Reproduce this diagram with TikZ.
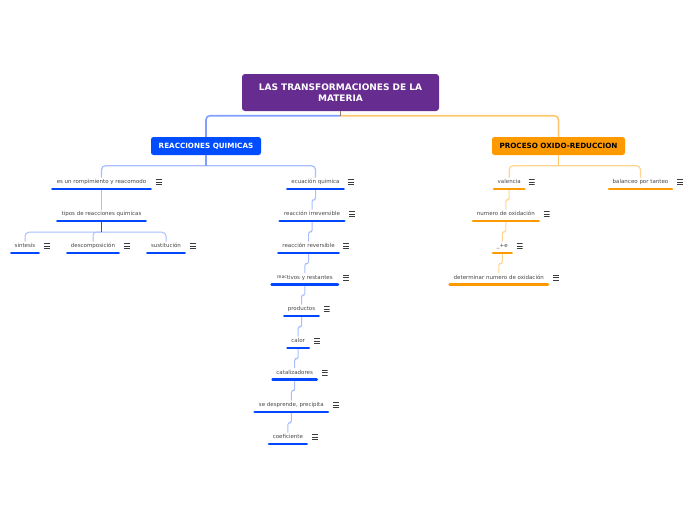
\documentclass[tikz,border=0pt]{standalone}
\usepackage{fontspec}
\setmainfont{DejaVu Sans}
\usetikzlibrary{calc}
\definecolor{rootc}{RGB}{102,44,144}
\definecolor{bluec}{RGB}{0,76,255}
\definecolor{orc}{RGB}{255,153,0}
\definecolor{bline}{RGB}{128,160,255}
\definecolor{oline}{RGB}{255,200,110}
\definecolor{blite}{RGB}{168,190,255}
\definecolor{olite}{RGB}{255,212,140}
\definecolor{stemc}{RGB}{150,120,110}
\definecolor{bdark}{RGB}{40,80,230}
\definecolor{txtc}{RGB}{70,70,70}
\definecolor{iconc}{RGB}{60,60,60}
\definecolor{ulb}{RGB}{0,71,255}
\definecolor{ulo}{RGB}{255,153,0}
\newcommand\leafit[6]{%
  \node[leaf] (#1) at (#2,#3) {#4};
  \draw[uline, #6] ({#2-#5+1.3},{#3+7}) -- ({#2+#5-1.3},{#3+7});
  \coordinate (#1u) at (#2,{#3+8.2});
}
\newcommand\menuit[3]{\node[menuicon] (#1) at (#2,#3) {};}
\newcommand\jogit[3]{\draw[#3, line width=1pt, rounded corners=1.5pt] (#1u) |- ($(#1u)!0.5!(#2.north)$) -| (#2.north);}
\begin{document}
\begin{tikzpicture}[x=1pt,y=-1pt,
  rootbox/.style={fill=rootc, rounded corners=3pt, text=white, font=\fontsize{9}{11}\selectfont\bfseries, align=center, minimum width=197pt, minimum height=37pt, inner sep=0},
  mainbox/.style={rounded corners=2.5pt, font=\fontsize{7.2}{8}\selectfont\bfseries, minimum height=18pt, inner sep=0},
  leaf/.style={font=\fontsize{5.5}{6}\selectfont, text=txtc, inner sep=0, outer sep=1.5pt, text height=4.5pt, text depth=1.5pt},
  uline/.style={line width=2.6pt, line cap=round},
  menuicon/.style={minimum width=6pt, minimum height=6pt, inner sep=0,
    path picture={\foreach \d in {-2.5,0,2.5}{\draw[iconc, line width=0.9pt] ([yshift=\d pt]path picture bounding box.west) -- ([yshift=\d pt]path picture bounding box.east);}}}
]
\useasboundingbox (0,0) rectangle (696,520);

% main boxes
\node[rootbox] (root) at (340.5,92.5) {LAS TRANSFORMACIONES DE LA\\MATERIA};
\node[mainbox, fill=bluec, text=white, minimum width=110pt] (rq) at (206,146) {REACCIONES QUIMICAS};
\node[mainbox, fill=orc, text=black, minimum width=133pt] (po) at (558.5,146) {PROCESO OXIDO-REDUCCION};

% leaves, left part
\leafit{es}{101.5}{182}{es un rompimiento y reacomodo}{50.5}{ulb}
\menuit{esi}{159}{182}
\leafit{tipos}{101.5}{214}{tipos de reacciones quimicas}{45.5}{ulb}
\leafit{sin}{25}{246}{sintesis}{15}{ulb}
\menuit{sini}{47}{246}
\leafit{desc}{93}{246}{descomposición}{27}{ulb}
\menuit{desci}{127}{246}
\leafit{sust}{166}{246}{sustitución}{20}{ulb}
\menuit{susti}{193}{246}

\leafit{ecu}{315.5}{182}{ecuación quimica}{29.5}{ulb}
\menuit{ecui}{351}{182}
\leafit{irr}{312}{214}{reacción irreversible}{33.7}{ulb}
\menuit{irri}{352}{214}
\leafit{rev}{308.5}{246}{reacción reversible}{31.5}{ulb}
\menuit{revi}{346}{246}
\leafit{reac}{304.8}{277.7}{{\fontsize{4.6}{5}\selectfont\raisebox{1pt}{reac}}tivos y restantes}{34.5}{ulb}
\menuit{reaci}{346}{277.7}
\leafit{prod}{301.5}{309}{productos}{18.5}{ulb}
\menuit{prodi}{326.7}{309}
\leafit{calor}{298.2}{341}{calor}{12}{ulb}
\menuit{calori}{317}{341}
\leafit{cata}{294.7}{372.7}{catalizadores}{23.4}{ulb}
\menuit{catai}{324.7}{372.7}
\leafit{desp}{291.3}{405}{se desprende, precipita}{38}{ulb}
\menuit{despi}{336}{405}
\leafit{coef}{287.9}{437}{coeficiente}{20.2}{ulb}
\menuit{coefi}{315}{437}

% leaves, right part
\leafit{val}{509.2}{182}{valencia}{16.5}{ulo}
\menuit{vali}{531.7}{182}
\leafit{bal}{640.5}{182}{balanceo por tanteo}{32.8}{ulo}
\menuit{bali}{680}{182}
\leafit{num}{505.9}{214}{numero de oxidación}{34.2}{ulo}
\menuit{numi}{546.7}{214}
\leafit{pe}{502.3}{246}{\_+e}{10.7}{ulo}
\menuit{pei}{519.7}{246}
\leafit{det}{498.8}{277.7}{determinar numero de oxidación}{50.5}{ulo}
\menuit{deti}{556}{277.7}

% connectors: root
\coordinate (rj) at ($(root.south)+(0,4.5)$);
\draw[bline, line width=1.6pt, rounded corners=4pt] (rj) -| (rq.north);
\draw[oline, line width=1.6pt, rounded corners=4pt] (rj) -| (po.north);
\draw[stemc, line width=1.6pt] (root.south) -- (rj);

% reacciones quimicas
\coordinate (rqj) at ($(rq.south)+(0,10.5)$);
\draw[blite, line width=1.2pt, rounded corners=4pt] (rqj) -| (es.north);
\draw[blite, line width=1.2pt, rounded corners=4pt] (rqj) -| (ecu.north);
\draw[bline, line width=1.3pt] (rq.south) -- (rqj);
\draw[blite, line width=1pt] (esu) -- (tipos.north);
\coordinate (tj) at ($(tiposu)+(0,10)$);
\draw[blite, line width=1pt, rounded corners=4pt] (tj) -| (sin.north);
\draw[blite, line width=1pt, rounded corners=4pt] (tj) -| (sust.north);
\draw[blite, line width=1pt, rounded corners=3pt] (tj) -| (desc.north);
\draw[bdark, line width=1.2pt] (tiposu) -- (tj);
\jogit{ecu}{irr}{blite}
\jogit{irr}{rev}{blite}
\jogit{rev}{reac}{blite}
\jogit{reac}{prod}{blite}
\jogit{prod}{calor}{blite}
\jogit{calor}{cata}{blite}
\jogit{cata}{desp}{blite}
\jogit{desp}{coef}{blite}

% proceso oxido-reduccion
\coordinate (poj) at ($(po.south)+(0,10.5)$);
\draw[olite, line width=1.2pt, rounded corners=4pt] (poj) -| (val.north);
\draw[olite, line width=1.2pt, rounded corners=4pt] (poj) -| (bal.north);
\draw[oline, line width=1.3pt] (po.south) -- (poj);
\jogit{val}{num}{olite}
\jogit{num}{pe}{olite}
\jogit{pe}{det}{olite}
\end{tikzpicture}
\end{document}
